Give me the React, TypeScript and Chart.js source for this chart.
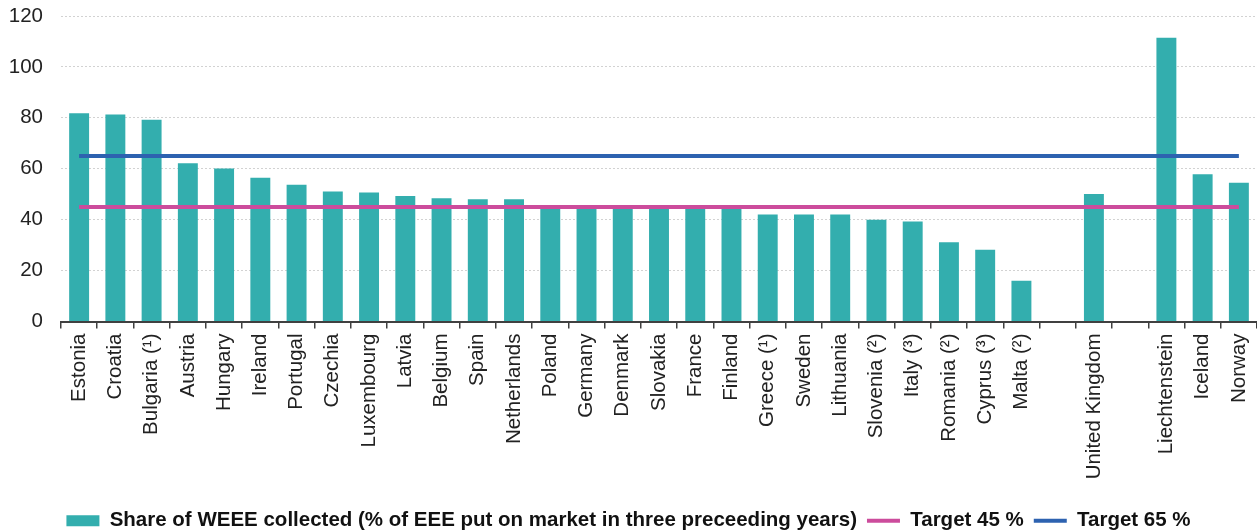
import React, { useEffect, useRef } from "react";
import { Chart, registerables } from "chart.js";

Chart.register(...registerables);

// Countries (empty strings keep the gaps before United Kingdom and the EFTA group)
const categories = [
  "Estonia", "Croatia", "Bulgaria (¹)", "Austria", "Hungary", "Ireland", "Portugal",
  "Czechia", "Luxembourg", "Latvia", "Belgium", "Spain", "Netherlands", "Poland",
  "Germany", "Denmark", "Slovakia", "France", "Finland", "Greece (¹)", "Sweden",
  "Lithuania", "Slovenia (²)", "Italy (³)", "Romania (²)", "Cyprus (³)", "Malta (²)",
  "", "United Kingdom", "", "Liechtenstein", "Iceland", "Norway",
];

// Share of WEEE collected (% of EEE put on market in the three preceding years)
const collected: (number | null)[] = [
  81.8, 81.3, 79.2, 62.2, 60.1, 56.5, 53.7,
  51.1, 50.7, 49.3, 48.4, 48.0, 48.0, 45.2,
  45.0, 45.0, 45.1, 45.3, 44.9, 42.0, 42.0,
  42.0, 40.0, 39.3, 31.1, 28.2, 16.0,
  null, 50.1, null, 111.5, 57.8, 54.5,
];

const TARGET_45 = 45;
const TARGET_65 = 65;

const yTicks = [0, 20, 40, 60, 80, 100, 120];

const BAR_COLOR = "#33AEAE";
const PINK = "#CC4C9C";
const BLUE = "#2D62B0";
const FONT = "'Liberation Sans', Arial, sans-serif";

export default function App() {
  const canvasRef = useRef<HTMLCanvasElement | null>(null);

  useEffect(() => {
    const canvas = canvasRef.current;
    if (!canvas) return;

    const target45 = categories.map(() => TARGET_45);
    const target65 = categories.map(() => TARGET_65);

    const chart = new Chart(canvas, {
      type: "bar",
      data: {
        labels: categories,
        datasets: [
          {
            type: "bar",
            label: "Share of WEEE collected (% of EEE put on market in three preceeding years)",
            data: collected,
            backgroundColor: BAR_COLOR,
            borderWidth: 0,
            barPercentage: 0.55,
            categoryPercentage: 1.0,
            order: 3,
          },
          {
            type: "line",
            label: "Target 45 %",
            data: target45,
            borderColor: PINK,
            backgroundColor: PINK,
            borderWidth: 4,
            pointRadius: 0,
            fill: false,
            order: 2,
          },
          {
            type: "line",
            label: "Target 65 %",
            data: target65,
            borderColor: BLUE,
            backgroundColor: BLUE,
            borderWidth: 4,
            pointRadius: 0,
            fill: false,
            order: 1,
          },
        ] as any,
      },
      options: {
        animation: false,
        responsive: true,
        maintainAspectRatio: false,
        layout: { padding: { top: 16, right: 0, bottom: 1, left: 0 } },
        scales: {
          x: {
            offset: true,
            grid: {
              display: true,
              offset: true,
              drawOnChartArea: false,
              drawTicks: true,
              tickLength: 7,
              color: "#404040",
              lineWidth: 1.5,
            },
            border: { display: true, color: "#404040", width: 2 },
            ticks: {
              autoSkip: false,
              maxRotation: 90,
              minRotation: 90,
              padding: 5,
              color: "#222",
              font: { family: FONT, size: 20.5 },
            },
            afterFit: (scale: any) => {
              scale.height = 179;
              scale.paddingLeft = 0;
              scale.paddingRight = 0;
            },
          },
          y: {
            min: 0,
            max: 120,
            afterBuildTicks: (scale: any) => {
              scale.ticks = yTicks.map((v) => ({ value: v }));
            },
            grid: {
              color: "#D2D2D2",
              lineWidth: 1,
              drawTicks: false,
            },
            border: { display: false, dash: [2, 2] },
            ticks: {
              padding: 18,
              color: "#222",
              font: { family: FONT, size: 20.5 },
            },
            afterFit: (scale: any) => {
              scale.width = 61;
              scale.paddingTop = 0;
              scale.paddingBottom = 0;
            },
          },
        },
        plugins: {
          tooltip: { enabled: false },
          legend: {
            position: "bottom",
            labels: {
              usePointStyle: true,
              pointStyleWidth: 33,
              boxHeight: 11,
              padding: 10,
              color: "#111",
              font: { family: FONT, size: 20.5, weight: "bold" },
              sort: (a: any, b: any) => a.datasetIndex - b.datasetIndex,
              generateLabels: (ch: any) => {
                const base = Chart.defaults.plugins.legend.labels.generateLabels(ch);
                return base.map((it: any) => {
                  const ds: any = ch.data.datasets[it.datasetIndex];
                  if (ds.type === "line") {
                    return {
                      ...it,
                      pointStyle: "line",
                      lineWidth: 4,
                      strokeStyle: ds.borderColor,
                      fillStyle: ds.borderColor,
                    };
                  }
                  return {
                    ...it,
                    pointStyle: "rect",
                    lineWidth: 0,
                    strokeStyle: BAR_COLOR,
                    fillStyle: BAR_COLOR,
                  };
                });
              },
            },
          },
        },
      },
    });

    return () => chart.destroy();
  }, []);

  return (
    <div style={{ position: "fixed", left: 0, top: 0, width: 1257, height: 542 }}>
      <canvas ref={canvasRef} />
    </div>
  );
}
